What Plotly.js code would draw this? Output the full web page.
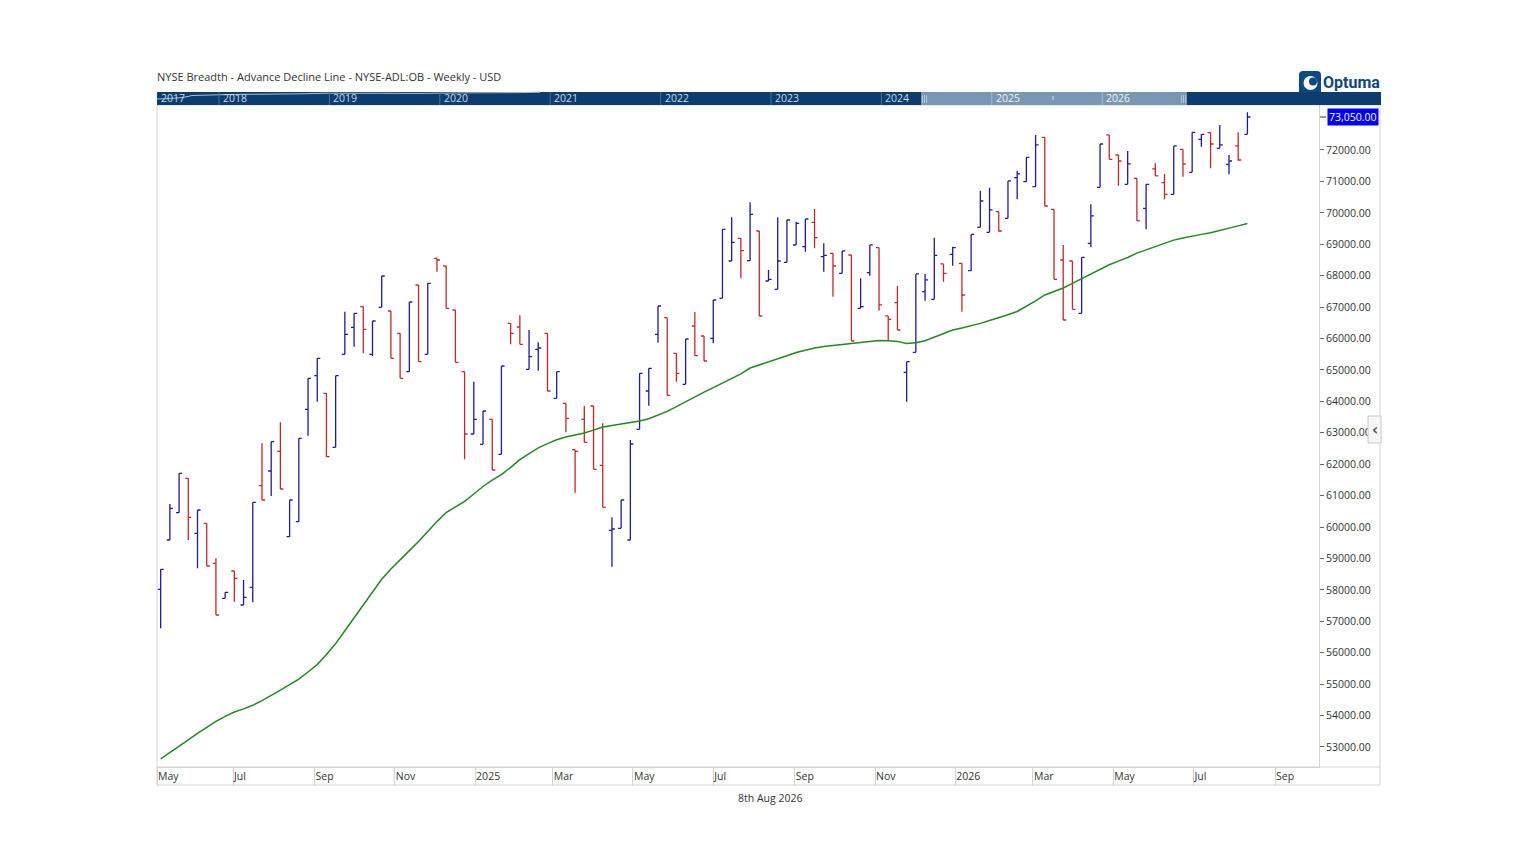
<!DOCTYPE html>
<html><head><meta charset="utf-8">
<script src="https://cdn.plot.ly/plotly-3.0.1.min.js"></script>
<style>html,body{margin:0;padding:0;background:#fff}#chart{width:1536px;height:864px}</style>
</head><body><div id="chart"></div>
<script>
const titleText = 'NYSE Breadth - Advance Decline Line - NYSE-ADL:OB - Weekly - USD';
const footerText = '8th Aug 2026';
const firstBarDate = [2024, 4, 7];   // first weekly bar (UTC y, m0, d)

const openVals = [
58016,59586,60456,61549,59798,60116,58843,57729,58599,57517,
58079,61315,61782,62408,59692,60170,63745,64817,64254,62536,
65496,66355,67013,65496,66992,66875,66164,64944,67703,65496,
68551,68307,66907,64944,62960,62632,63427,62313,66483,66366,
65019,65655,66165,64096,63937,62462,63427,63852,61963,59894,
59958,59586,63109,64329,66133,66663,65528,64541,66398,66080,
66006,67279,68467,69189,68478,69422,67830,67565,68425,68976,
68924,69698,68605,68711,68075,68658,66961,68096,68892,66717,
67141,64924,65560,67491,67247,68372,68680,68393,68160,69539,
69380,70038,69825,71120,70993,70833,72404,70112,68499,68467,
66802,69030,70812,72478,71841,70908,71099,70144,71396,70961,
70589,72022,71290,72340,72552,72054,71544,72128,72499];

const highVals = [
58652,60732,61708,61549,60541,60116,59002,57920,58599,58313,
60785,62663,62716,63331,60859,62822,64732,65368,64254,64817,
66854,66801,67013,66557,67989,66875,66164,67162,67703,67756,
68551,68307,66907,64944,64626,63693,63427,65125,66483,66738,
66271,65878,66165,64945,63937,62462,63852,63852,63300,60308,
60860,62769,64891,65051,67035,66663,65528,65984,66844,66080,
67226,69475,69857,69189,70334,69422,68181,69857,69772,69719,
69804,70123,69030,68711,68786,68658,67916,68977,68892,66717,
67672,65263,68054,68054,69210,68372,68924,68393,69316,70706,
70802,70038,71014,71343,71767,72478,72404,70112,68977,68467,
68584,70271,72191,72478,71841,71969,71099,70908,71576,71237,
72128,72022,72563,72499,72552,72796,71841,72563,73199];

const lowVals = [
56774,59586,60456,59586,58684,58758,57199,57729,57623,57517,
57602,60859,60987,61209,59692,60170,62907,63989,62238,62536,
65496,65740,65528,65443,66992,65368,64732,64944,65262,65496,
68127,66960,65241,62154,62960,62632,61815,62313,65815,65815,
65019,64976,64329,64096,63014,61093,62695,61836,60626,58738,
59958,59586,63109,63862,65868,64191,64626,64541,65454,65284,
65846,67279,68467,67915,68478,66716,67830,67565,68425,68976,
68764,68871,68128,67332,68075,65921,66961,68001,66886,65953,
66271,63990,65560,67205,67247,67810,68319,66855,68160,69539,
69380,69401,69825,70430,70993,70833,70218,67884,66589,66929,
66802,68902,70812,71703,70865,70908,69741,69475,71173,70430,
70589,71152,71290,72107,71417,72054,71226,71661,72499];

const closeVals = [
58652,60594,61708,60307,60541,58758,57199,57920,58366,57761,
60785,60859,62716,61209,60859,62822,64732,65368,62238,64817,
66132,66801,66292,66557,67989,65368,64732,67162,65262,67756,
68498,66960,65241,62960,63427,63693,61815,65125,66165,65815,
65422,65698,64329,64945,63459,62409,62695,61836,60626,59937,
60860,62642,64891,65051,67035,64191,64891,65984,65454,65284,
67226,69475,69061,68796,69952,66716,67884,68467,69772,69666,
69804,69210,68648,68308,68786,65921,67014,68977,67067,66611,
66271,65263,68054,67863,68648,68075,68892,67385,69316,70377,
70091,69422,71014,71237,71767,72160,70218,67884,66589,66929,
68584,69900,72191,71703,71650,71555,69741,70908,71173,70589,
72128,71555,72563,72499,72191,72160,71650,71682,73050];

const maVals = [
52622,52816,53020,53227,53430,53624,53815,53971,54112,54210,
54325,54471,54630,54809,54984,55158,55385,55620,55945,56289,
56699,57107,57517,57925,58335,58663,58969,59249,59539,59860,
60172,60462,60643,60815,61050,61289,61490,61665,61897,62142,
62336,62521,62655,62776,62862,62919,62992,63084,63183,63234,
63282,63323,63371,63447,63559,63680,63829,63992,64141,64291,
64437,64580,64720,64876,65061,65153,65243,65341,65449,65554,
65634,65698,65745,65780,65806,65838,65873,65901,65933,65930,
65908,65841,65863,65930,66038,66156,66271,66331,66395,66481,
66570,66656,66754,66859,67022,67200,67385,67499,67607,67754,
67903,68069,68215,68346,68464,68578,68718,68827,68932,69040,
69132,69202,69266,69314,69364,69444,69514,69584,69657];

const monthTickDates = ['2024-05-04 06:00','2024-07-01','2024-09-01','2024-11-01','2025-01-01','2025-03-01',
  '2025-05-01','2025-07-01','2025-09-01','2025-11-01','2026-01-01','2026-03-01','2026-05-01','2026-07-01','2026-09-01'];
const monthTickText = ['May','Jul','Sep','Nov','2025','Mar','May','Jul','Sep','Nov','2026','Mar','May','Jul','Sep'];
const yTickVals = [53000,54000,55000,56000,57000,58000,59000,60000,61000,62000,
  63000,64000,65000,66000,67000,68000,69000,70000,71000,72000];
const navYears = ['2017','2018','2019','2020','2021','2022','2023','2024','2025','2026'];

// weekly dates for the bars
const t0 = Date.UTC(firstBarDate[0], firstBarDate[1], firstBarDate[2]);
const barDates = closeVals.map((_, i) => new Date(t0 + i * 7 * 86400000).toISOString().slice(0, 10));

// pixel -> paper helpers (plot area 157..1319 x 105..767)
const L = 157, R = 1319, T = 105, B = 767;
const PX = x => (x - L) / (R - L);
const PY = y => (B - y) / (B - T);

const FONT = 'Open Sans';
const textCol = '#333333';
const frameCol = '#d4d4d4';

const shapes = [];
const annotations = [];

// outer frame & x-label band
shapes.push({type:'rect', xref:'paper', yref:'paper', x0:PX(157), x1:PX(1380), y0:PY(785), y1:PY(105),
  line:{color:frameCol, width:1}, fillcolor:'rgba(0,0,0,0)', layer:'above'});
shapes.push({type:'line', xref:'paper', yref:'paper', x0:PX(157), x1:PX(1380), y0:PY(767), y1:PY(767),
  line:{color:frameCol, width:1}, layer:'above'});

// navigator band
shapes.push({type:'rect', xref:'paper', yref:'paper', x0:PX(157), x1:PX(1381), y0:PY(105), y1:PY(92),
  line:{width:0}, fillcolor:'#0c3d6e', layer:'above'});
shapes.push({type:'rect', xref:'paper', yref:'paper', x0:PX(921), x1:PX(1187), y0:PY(105), y1:PY(92),
  line:{width:0}, fillcolor:'#7b96b2', layer:'above'});
// overview mini-line
const ov = [[157,99],[170,98.5],[183,97.5],[192,95.5],[230,94.5],[300,93.8],[330,93.2],[420,93.4],[470,92.8],[520,92.6],[540,92.2]];
shapes.push({type:'path', xref:'paper', yref:'paper',
  path: ov.map((p,i)=>(i?'L':'M')+PX(p[0])+','+PY(p[1])).join(' '),
  line:{color:'#a9bdd2', width:1}, layer:'above'});
navYears.forEach((yr, i) => {
  const sep = 219 + (i - 1) * 110.4;
  const inHi = sep > 921 && sep < 1187;
  if (sep > L) {
    shapes.push({type:'line', xref:'paper', yref:'paper', x0:PX(sep), x1:PX(sep), y0:PY(105), y1:PY(92),
      line:{color: inHi ? '#a8bacd' : '#4a6f96', width:1}, layer:'above'});
  }
  annotations.push({xref:'paper', yref:'paper', x:PX(Math.max(L, sep) + 2), y:PY(98.5), xanchor:'left', yanchor:'middle',
    text: yr, showarrow:false, font:{family:FONT, size:10.5, color: inHi ? '#eef2f6' : '#cdd6e0'}});
});
// grips and middle tick
[922.5, 924.5, 926.5, 1181.5, 1183.5, 1185.5].forEach(x => {
  shapes.push({type:'line', xref:'paper', yref:'paper', x0:PX(x), x1:PX(x), y0:PY(103), y1:PY(95),
    line:{color:'#c3d0dd', width:0.8}, layer:'above'});
});
shapes.push({type:'line', xref:'paper', yref:'paper', x0:PX(1053), x1:PX(1053), y0:PY(100), y1:PY(96),
  line:{color:'#d5dee8', width:1}, layer:'above'});

// Optuma logo
function rr(x0, y0, x1, y1, r) {
  const P = (x, y) => PX(x) + ',' + PY(y);
  return 'M' + P(x0 + r, y0) + ' L' + P(x1 - r, y0) + ' Q' + P(x1, y0) + ' ' + P(x1, y0 + r) +
    ' L' + P(x1, y1) + ' L' + P(x0, y1) + ' L' + P(x0, y0 + r) + ' Q' + P(x0, y0) + ' ' + P(x0 + r, y0) + ' Z';
}
shapes.push({type:'path', xref:'paper', yref:'paper', path: rr(1299, 71, 1321, 92, 4),
  fillcolor:'#0d4a82', line:{width:0}, layer:'above'});
shapes.push({type:'circle', xref:'paper', yref:'paper', x0:PX(1303.5), x1:PX(1317.5), y0:PY(90), y1:PY(76),
  fillcolor:'#ffffff', line:{width:0}, layer:'above'});
shapes.push({type:'circle', xref:'paper', yref:'paper', x0:PX(1309), x1:PX(1317), y0:PY(85.5), y1:PY(77.5),
  fillcolor:'#0d4a82', line:{width:0}, layer:'above'});
annotations.push({xref:'paper', yref:'paper', x:PX(1321), y:PY(82.5), xanchor:'left', yanchor:'middle',
  text:'Optuma', showarrow:false, font:{family:'Roboto', size:16, weight:'bold', color:'#0d4a82'}});

// scroll handle on the right
shapes.push({type:'rect', xref:'paper', yref:'paper', x0:PX(1368), x1:PX(1381), y0:PY(443), y1:PY(416),
  fillcolor:'#f6f6f6', line:{color:'#c8c8c8', width:1}, layer:'above'});
annotations.push({xref:'paper', yref:'paper', x:PX(1374.5), y:PY(429.5), xanchor:'center', yanchor:'middle',
  text:'<b>‹</b>', showarrow:false, font:{family:'DejaVu Sans', size:15, color:'#555'}});

// last value label
const lastClose = closeVals[closeVals.length - 1];
shapes.push({type:'line', xref:'paper', yref:'y', x0:PX(1320), x1:PX(1326), y0:lastClose, y1:lastClose,
  line:{color:'#333', width:1}, layer:'above'});
annotations.push({xref:'paper', yref:'y', x:PX(1327), y:lastClose, xanchor:'left', yanchor:'middle',
  text: lastClose.toLocaleString('en-US', {minimumFractionDigits:2, maximumFractionDigits:2}),
  showarrow:false, bgcolor:'#0000ff', borderpad:1, font:{family:FONT, size:10.5, color:'#ffffff'}});

// footer date
annotations.push({xref:'paper', yref:'paper', x:PX(770), y:PY(798), xanchor:'center', yanchor:'middle',
  text: footerText, showarrow:false, font:{family:FONT, size:10.5, color:textCol}});

const traces = [
  {type:'ohlc', x:barDates, open:openVals, high:highVals, low:lowVals, close:closeVals,
   increasing:{line:{color:'#1c1ca3', width:1.3}}, decreasing:{line:{color:'#c62828', width:1.3}},
   tickwidth:0.33, hoverinfo:'skip', showlegend:false},
  {type:'scatter', mode:'lines', x:barDates, y:maVals, line:{color:'#1f8a1f', width:1.5},
   hoverinfo:'skip', showlegend:false}
];

const layout = {
  width:1536, height:864,
  margin:{l:L, r:1536 - R, t:T, b:864 - B, pad:0},
  paper_bgcolor:'#ffffff', plot_bgcolor:'#ffffff',
  showlegend:false, hovermode:false,
  title:{text:titleText, xref:'container', yref:'container', x:157/1536, xanchor:'left',
    y:1 - 77/864, yanchor:'middle', font:{family:FONT, size:11, color:textCol}},
  xaxis:{type:'date', range:['2024-05-04 05:00','2026-10-04 10:00'], rangeslider:{visible:false},
    showgrid:false, zeroline:false, showline:true, linecolor:frameCol, mirror:false,
    ticks:'outside', ticklen:18, tickcolor:frameCol, tickwidth:1,
    tickmode:'array', tickvals:monthTickDates, ticktext:monthTickText,
    ticklabelposition:'outside right', ticklabelstandoff:-1,
    tickfont:{family:FONT, size:10.5, color:textCol}, fixedrange:true},
  yaxis:{side:'right', range:[52361, 73432], tickmode:'array', tickvals:yTickVals, tickformat:'.2f',
    showgrid:false, zeroline:false, showline:true, linecolor:frameCol,
    ticks:'outside', ticklen:4, tickcolor:'#666', tickwidth:1,
    tickfont:{family:FONT, size:10.5, color:textCol}, fixedrange:true},
  shapes:shapes, annotations:annotations
};

Plotly.newPlot('chart', traces, layout, {displayModeBar:false, staticPlot:true});
</script>
</body></html>
